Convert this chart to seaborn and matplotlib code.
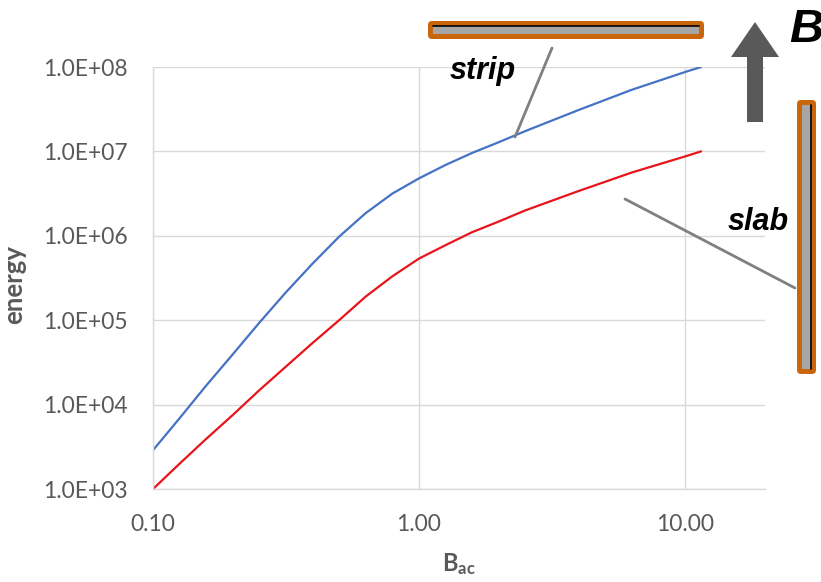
import numpy as np
import pandas as pd
import seaborn as sns
import matplotlib
matplotlib.use("Agg")
import matplotlib.pyplot as plt
from matplotlib.patches import FancyBboxPatch, Rectangle, Polygon
from matplotlib.lines import Line2D
from matplotlib.transforms import IdentityTransform
from matplotlib.ticker import FixedLocator, FuncFormatter, NullLocator

# ---- data ----
b_ac = [0.100, 0.126, 0.158, 0.200, 0.251, 0.316, 0.398, 0.501, 0.631, 0.794,
        1.00, 1.26, 1.58, 2.00, 2.51, 3.98, 6.31, 10.0, 11.5]
energy_strip = [2.88e3, 6.92e3, 1.66e4, 3.98e4, 9.33e4, 2.14e5, 4.68e5, 9.77e5, 1.86e6, 3.16e6,
                4.79e6, 6.92e6, 9.55e6, 1.29e7, 1.74e7, 3.09e7, 5.37e7, 8.71e7, 1.0e8]
energy_slab = [1.0e3, 2.0e3, 3.89e3, 7.59e3, 1.48e4, 2.82e4, 5.37e4, 1.0e5, 1.91e5, 3.31e5,
               5.37e5, 7.76e5, 1.10e6, 1.48e6, 2.0e6, 3.39e6, 5.62e6, 8.71e6, 1.0e7]
x_ticks = [0.1, 1.0, 10.0]
y_ticks = [1e3, 1e4, 1e5, 1e6, 1e7, 1e8]

sns.set_style("white")
plt.rcParams['font.family'] = ['Lato', 'DejaVu Sans']
plt.rcParams['mathtext.fontset'] = 'custom'
plt.rcParams['mathtext.rm'] = 'Lato'
plt.rcParams['mathtext.bf'] = 'Lato:bold'
plt.rcParams['mathtext.it'] = 'Lato:italic'

W, H = 821, 582
fig = plt.figure(figsize=(W / 100, H / 100), dpi=100)
ax = fig.add_axes([153 / W, 1 - 489 / H, (765 - 153) / W, (489 - 67) / H])

df = pd.DataFrame({"B_ac": b_ac, "strip": energy_strip, "slab": energy_slab})
sns.lineplot(data=df, x="B_ac", y="strip", ax=ax, color="#4472C4", linewidth=1.6)
sns.lineplot(data=df, x="B_ac", y="slab", ax=ax, color="#E8141B", linewidth=1.6)

ax.set_xscale("log")
ax.set_yscale("log")
ax.set_xlim(0.1, 20)
ax.set_ylim(1e3, 1e8)
ax.xaxis.set_major_locator(FixedLocator(x_ticks))
ax.yaxis.set_major_locator(FixedLocator(y_ticks))
ax.xaxis.set_minor_locator(NullLocator())
ax.yaxis.set_minor_locator(NullLocator())
ax.xaxis.set_major_formatter(FuncFormatter(lambda v, p: f"{v:.2f}"))
ax.yaxis.set_major_formatter(FuncFormatter(lambda v, p: f"{v:.1E}"))
ax.tick_params(axis="both", length=0, labelsize=16.5, labelcolor="#595959")
ax.tick_params(axis="y", pad=18)
ax.tick_params(axis="x", pad=18)
ax.grid(True, which="major", color="#D9D9D9", linewidth=1.0)
for s in ["top", "right"]:
    ax.spines[s].set_visible(False)
for s in ["left", "bottom"]:
    ax.spines[s].set_color("#D9D9D9")
    ax.spines[s].set_linewidth(1.0)

ax.set_xlabel(r"$\mathbf{B}_{\mathbf{ac}}$", fontsize=17, color="#595959")
ax.set_ylabel("energy", fontsize=18.5, fontweight="bold", color="#595959")
ax.xaxis.set_label_coords(0.5, -(551 - 489) / (489 - 67))
ax.yaxis.set_label_coords(-(153 - 26) / (765 - 153), (489 - 285) / (489 - 67))

# ---- decorations in pixel coordinates (origin top-left) ----
T = IdentityTransform()
def P(x, y):
    return (x, H - y)

orange = "#C9650A"
gray_fill = "#A6A6A6"

def rbox(x0, y0, x1, y1, color, r):
    return FancyBboxPatch(P(x0, y1), x1 - x0, y1 - y0,
                          boxstyle=f"round,pad=0,rounding_size={r}",
                          facecolor=color, edgecolor="none", transform=T)

# strip
fig.add_artist(rbox(428, 21, 704, 39, orange, 4))
fig.add_artist(Rectangle(P(433, 34), 266, 8, facecolor=gray_fill, edgecolor="none", transform=T))
fig.add_artist(Line2D([433, 699], [H - 26, H - 26], color="black", linewidth=1.2, transform=T))
# slab
fig.add_artist(rbox(797, 100, 816, 374, orange, 4))
fig.add_artist(Rectangle(P(802, 369), 9, 264, facecolor=gray_fill, edgecolor="none", transform=T))
fig.add_artist(Line2D([811, 811], [H - 105, H - 369], color="black", linewidth=1.2, transform=T))

# arrow
arrow_pts = [P(747, 122), P(763, 122), P(763, 57), P(779, 57), P(755, 22), P(731, 57), P(747, 57)]
fig.add_artist(Polygon(arrow_pts, closed=True, facecolor="#595959", edgecolor="none", transform=T))

# leader lines
fig.add_artist(Line2D([552, 515], [H - 48, H - 137], color="#808080", linewidth=2, transform=T))
fig.add_artist(Line2D([625, 795], [H - 199, H - 288], color="#808080", linewidth=2, transform=T))

# labels
fig.text(789 / W, 1 - 42 / H, "B", fontsize=34, fontweight="bold", fontstyle="italic",
         family="Liberation Sans", color="black", ha="left", va="baseline")
fig.text(483 / W, 1 - 79 / H, "strip", fontsize=22, fontweight="bold", fontstyle="italic",
         family="Liberation Sans", color="black", ha="center", va="baseline")
fig.text(758 / W, 1 - 230 / H, "slab", fontsize=22, fontweight="bold", fontstyle="italic",
         family="Liberation Sans", color="black", ha="center", va="baseline")

fig.savefig("out.png", dpi=100)
